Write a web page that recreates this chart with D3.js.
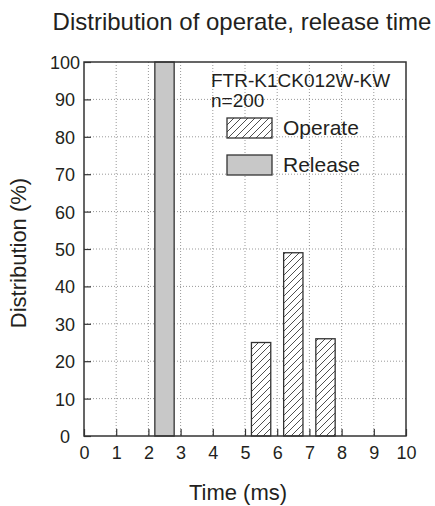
<!DOCTYPE html>
<html lang="en">
<head>
    <meta charset="UTF-8">
    <title>Distribution of operate, release time</title>
    <script src="https://d3js.org/d3.v7.min.js"></script>
    <style>
        body { margin: 0; background: #fff; }
        svg { display: block; font-family: "Liberation Sans", Arial, sans-serif; }
        .grid line { stroke: #999; stroke-width: 1; stroke-dasharray: 1 2; }
        .lbl { fill: #231f20; }
    </style>
</head>
<body>
    <svg id="chart"></svg>
    <script>
        // bins (ms) and percentages
        var xTicks = [0, 1, 2, 3, 4, 5, 6, 7, 8, 9, 10];
        var yTicks = [0, 10, 20, 30, 40, 50, 60, 70, 80, 90, 100];
        var releaseBins = [[2.2, 2.8]];
        var releaseValues = [100];
        var operateBins = [[5.2, 5.8], [6.2, 6.8], [7.2, 7.8]];
        var operateValues = [25, 49, 26];

        var W = 435, H = 506;
        var margin = {top: 62, right: 29, bottom: 70, left: 84},
            width = W - margin.left - margin.right,
            height = H - margin.top - margin.bottom;

        var svg = d3.select("#chart").attr("width", W).attr("height", H);

        // hatch pattern for the operate bars
        var defs = svg.append("defs");
        var pat = defs.append("pattern")
            .attr("id", "hatch")
            .attr("patternUnits", "userSpaceOnUse")
            .attr("width", 7).attr("height", 7);
        pat.append("rect").attr("width", 7).attr("height", 7).attr("fill", "#fff");
        pat.append("path")
            .attr("d", "M-1,8 L8,-1 M-1,1 L1,-1 M6,8 L8,6")
            .attr("stroke", "#222").attr("stroke-width", 0.8);

        var g = svg.append("g").attr("transform", "translate(" + margin.left + "," + margin.top + ")");

        var x = d3.scaleLinear().domain([0, 10]).range([0, width]);
        var y = d3.scaleLinear().domain([0, 100]).range([height, 0]);

        // dotted grid
        g.append("g").attr("class", "grid")
            .selectAll("line").data(xTicks.slice(1, -1)).enter().append("line")
            .attr("x1", d => x(d)).attr("x2", d => x(d))
            .attr("y1", 0).attr("y2", height);
        g.append("g").attr("class", "grid")
            .selectAll("line").data(yTicks.slice(1, -1)).enter().append("line")
            .attr("x1", 0).attr("x2", width)
            .attr("y1", d => y(d)).attr("y2", d => y(d));

        // bars
        g.selectAll(".rel").data(releaseBins).enter().append("rect")
            .attr("class", "rel")
            .attr("x", d => x(d[0]))
            .attr("width", d => x(d[1]) - x(d[0]))
            .attr("y", (d, i) => y(releaseValues[i]))
            .attr("height", (d, i) => height - y(releaseValues[i]))
            .attr("fill", "#c8c8c8").attr("stroke", "#333").attr("stroke-width", 1.3);

        g.selectAll(".op").data(operateBins).enter().append("rect")
            .attr("class", "op")
            .attr("x", d => x(d[0]))
            .attr("width", d => x(d[1]) - x(d[0]))
            .attr("y", (d, i) => y(operateValues[i]))
            .attr("height", (d, i) => height - y(operateValues[i]))
            .attr("fill", "url(#hatch)").attr("stroke", "#333").attr("stroke-width", 1.3);

        // axes with inward ticks
        var xAxis = g.append("g").attr("transform", "translate(0," + height + ")")
            .call(d3.axisBottom(x).tickValues(xTicks).tickSizeInner(-7).tickSizeOuter(0).tickPadding(10));
        var yAxis = g.append("g")
            .call(d3.axisLeft(y).tickValues(yTicks).tickSizeInner(-7).tickSizeOuter(0).tickPadding(19));
        [xAxis, yAxis].forEach(function(a) {
            a.select(".domain").remove();
            a.selectAll("line").attr("stroke", "#333").attr("stroke-width", 1.2);
            a.selectAll("text").attr("class", "lbl").attr("font-size", 18)
                .attr("font-family", "'Liberation Sans', Arial, sans-serif").attr("fill", "#231f20");
        });
        yAxis.selectAll("text").attr("dy", "0.36em").attr("text-anchor", "middle");

        // frame
        g.append("rect").attr("width", width).attr("height", height)
            .attr("fill", "none").attr("stroke", "#333").attr("stroke-width", 1.5);

        // titles
        svg.append("text").attr("class", "lbl")
            .attr("x", 242).attr("y", 30)
            .attr("text-anchor", "middle").attr("font-size", 24)
            .text("Distribution of operate, release time");
        svg.append("text").attr("class", "lbl")
            .attr("x", 238).attr("y", 500)
            .attr("text-anchor", "middle").attr("font-size", 22)
            .text("Time (ms)");
        svg.append("text").attr("class", "lbl")
            .attr("transform", "translate(26,253) rotate(-90)")
            .attr("text-anchor", "middle").attr("font-size", 22)
            .text("Distribution (%)");

        // legend
        var lg = svg.append("g");
        lg.append("text").attr("class", "lbl").attr("x", 211).attr("y", 87)
            .attr("font-size", 19).text("FTR-K1CK012W-KW");
        lg.append("text").attr("class", "lbl").attr("x", 211).attr("y", 107)
            .attr("font-size", 19).text("n=200");
        var items = [
            {name: "Operate", fill: "url(#hatch)"},
            {name: "Release", fill: "#c8c8c8"}
        ];
        var row = lg.selectAll(".item").data(items).enter().append("g")
            .attr("transform", (d, i) => "translate(227," + (118 + i * 37) + ")");
        row.append("rect").attr("width", 45).attr("height", 20)
            .attr("fill", d => d.fill).attr("stroke", "#333").attr("stroke-width", 1.3);
        row.append("text").attr("class", "lbl").attr("x", 56).attr("y", 17)
            .attr("font-size", 21).text(d => d.name);
    </script>
</body>
</html>
